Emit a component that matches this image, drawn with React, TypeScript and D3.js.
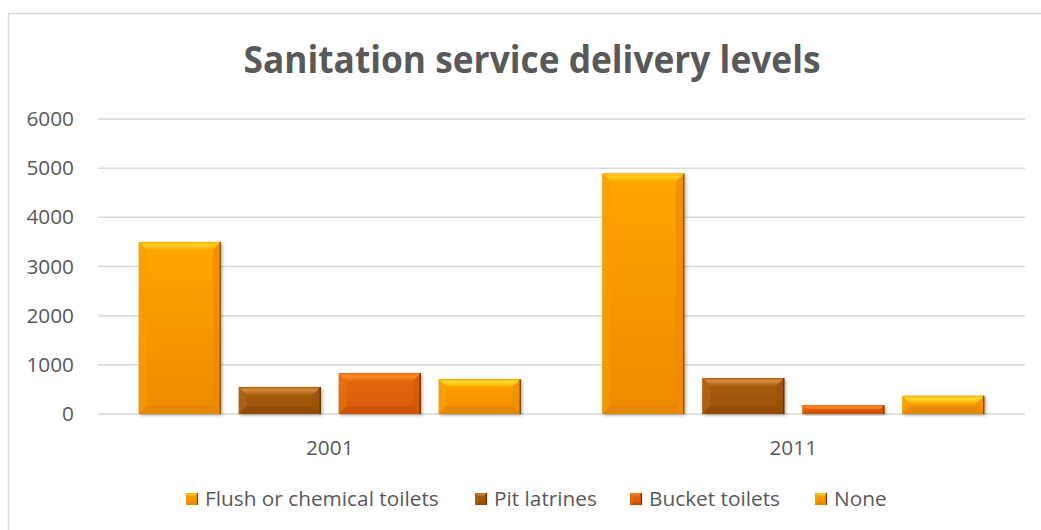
import React from "react";
import * as d3 from "d3";

const categories = ["2001", "2011"];
const seriesNames = ["Flush or chemical toilets", "Pit latrines", "Bucket toilets", "None"];
const flushValues = [3500, 4890];
const pitValues = [550, 730];
const bucketValues = [830, 180];
const noneValues = [710, 370];
const yTicks = [0, 1000, 2000, 3000, 4000, 5000, 6000];

const seriesValues = [flushValues, pitValues, bucketValues, noneValues];

const palettes = [
  { top: "#FFD21F", main1: "#FFA600", main2: "#EE8A00", side: "#F5A000", bottom: "#D98000", edge: "#7A4E00" },
  { top: "#D98A3E", main1: "#A95E0E", main2: "#9A5206", side: "#B5671A", bottom: "#8A4A05", edge: "#5A3000" },
  { top: "#FF8A2A", main1: "#E66A0C", main2: "#D85806", side: "#EA7318", bottom: "#BE4C04", edge: "#6A2A00" },
  { top: "#FFE030", main1: "#FFA400", main2: "#F08C00", side: "#F7A500", bottom: "#D98000", edge: "#6A4200" },
];

const W = 1041;
const H = 530;
const left = 98;
const right = 1025;
const yTop = 119;
const yBottom = 414;

function Bar({ x, y, w, h, p, id, b0 = 8 }: any) {
  const b = Math.min(b0, h / 2, w / 2);
  const pts = (a: number[][]) => a.map((q) => q.join(",")).join(" ");
  return (
    <g>
      <rect x={x} y={y} width={w} height={h} fill={`url(#g${id})`} />
      <polygon points={pts([[x, y], [x + w, y], [x + w - b, y + b], [x + b, y + b]])} fill={`url(#t${id})`} />
      <polygon points={pts([[x, y], [x + b, y + b], [x + b, y + h - b], [x, y + h]])} fill={p.side} opacity={0.6} />
      <polygon points={pts([[x + w, y], [x + w - b, y + b], [x + w - b, y + h - b], [x + w, y + h]])} fill={p.main2} opacity={0.7} />
      <polygon points={pts([[x, y + h], [x + w, y + h], [x + w - b, y + h - b], [x + b, y + h - b]])} fill={p.bottom} opacity={0.45} />
      <line x1={x + w - 0.5} y1={y} x2={x + w - 0.5} y2={y + h} stroke={p.edge} strokeWidth={1.2} />
    </g>
  );
}

export default function App() {
  const x0 = d3.scaleBand<string>().domain(categories).range([left, right]).padding(0);
  const x1 = d3
    .scaleBand<string>()
    .domain(seriesNames)
    .range([0, x0.bandwidth()])
    .paddingInner(0.18)
    .paddingOuter(0.4075);
  const y = d3.scaleLinear().domain([0, 6000]).range([yBottom, yTop]);

  const legendX = [186, 475, 630, 815];
  const font = "'Open Sans', 'Liberation Sans', sans-serif";
  const fs = 20.8;

  return (
    <svg width={W} height={H} style={{ position: "fixed", left: 0, top: 0, background: "#fff" }}>
      <defs>
        {palettes.map((p, i) => (
          <linearGradient key={i} id={`g${i}`} x1="0" y1="0" x2="0" y2="1">
            <stop offset="0" stopColor={p.main1} />
            <stop offset="1" stopColor={p.main2} />
          </linearGradient>
        ))}
        {palettes.map((p, i) => (
          <linearGradient key={"t" + i} id={`t${i}`} x1="0" y1="0" x2="0" y2="1">
            <stop offset="0" stopColor={p.main1} />
            <stop offset="0.35" stopColor={p.top} />
            <stop offset="1" stopColor={p.main1} />
          </linearGradient>
        ))}
        <filter id="sh" x="-10%" y="-10%" width="130%" height="130%">
          <feDropShadow dx="1.5" dy="1.5" stdDeviation="1.5" floodColor="#000" floodOpacity="0.3" />
        </filter>
      </defs>
      <rect x={0} y={0} width={W} height={H} fill="#fff" />
      <path d={`M8.5,${H} L8.5,13.5 L${W},13.5`} fill="none" stroke="#d9d9d9" strokeWidth={1.5} />
      <text
        x={532}
        y={73}
        textAnchor="middle"
        fontFamily={font}
        fontWeight="bold"
        fontSize={37}
        fill="#595959"
        textLength={577}
        lengthAdjust="spacingAndGlyphs"
      >
        Sanitation service delivery levels
      </text>
      {yTicks.map((t) => (
        <g key={t}>
          <line x1={left} x2={right} y1={y(t)} y2={y(t)} stroke="#d9d9d9" strokeWidth={1.5} />
          <text x={74} y={y(t) + 7} textAnchor="end" fontFamily={font} fontSize={fs} fill="#595959">
            {t}
          </text>
        </g>
      ))}
      {categories.map((c, ci) => (
        <g key={c}>
          {seriesNames.map((s, si) => {
            const v = seriesValues[si][ci];
            const bx = (x0(c) as number) + (x1(s) as number);
            const by = y(v);
            return (
              <g key={s} filter="url(#sh)">
                <Bar x={bx} y={by} w={x1.bandwidth()} h={yBottom - by} p={palettes[si]} id={si} />
              </g>
            );
          })}
          <text
            x={(x0(c) as number) + x0.bandwidth() / 2}
            y={455}
            textAnchor="middle"
            fontFamily={font}
            fontSize={fs}
            fill="#595959"
          >
            {c}
          </text>
        </g>
      ))}
      {seriesNames.map((s, si) => (
        <g key={s}>
          <Bar x={legendX[si]} y={493} w={12} h={12} p={palettes[si]} id={si} b0={3} />
          <text x={legendX[si] + 19} y={506} fontFamily={font} fontSize={fs} fill="#595959">
            {s}
          </text>
        </g>
      ))}
    </svg>
  );
}
